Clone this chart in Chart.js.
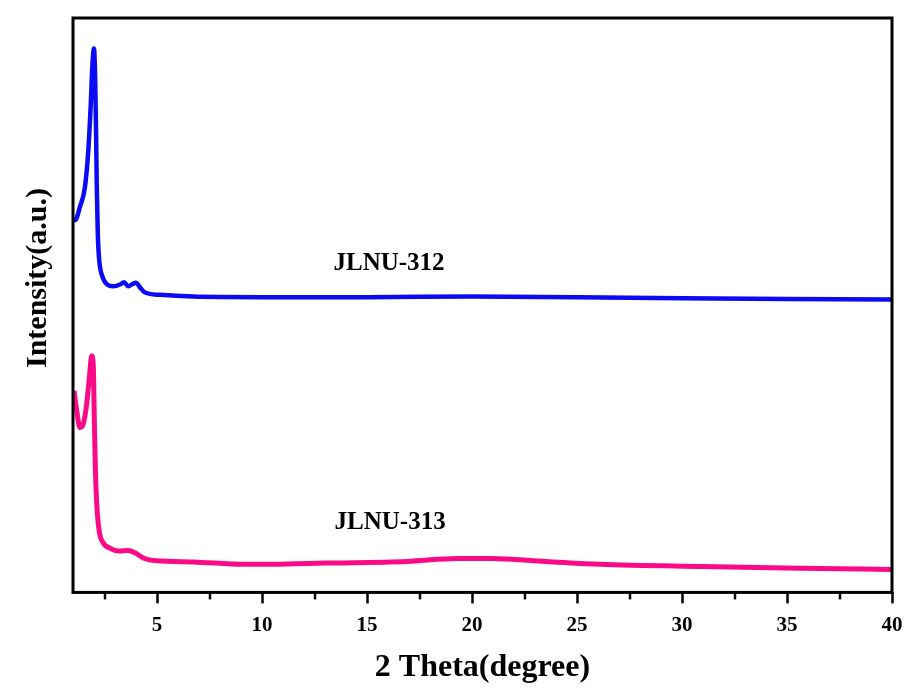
<!DOCTYPE html>
<html>
<head>
<meta charset="utf-8">
<script src="https://cdn.jsdelivr.net/npm/chart.js@4.4.0/dist/chart.umd.min.js"></script>
<style>
  html, body { margin: 0; padding: 0; background: #ffffff; }
  canvas { display: block; }
</style>
</head>
<body>
<canvas id="xrd" width="909" height="691"></canvas>
<script>
// PXRD patterns, 2θ in degrees, intensity in arbitrary units (stacked)
const theta312 = [1.0, 1.1, 1.33, 1.57, 1.73, 1.84, 1.92, 2.0, 2.06, 2.10, 2.13, 2.18, 2.25, 2.41, 2.6, 2.92, 3.24, 3.43, 3.63, 3.84, 4.0, 4.19, 4.43, 5.14, 6.71, 9.9, 15, 20, 25, 30, 35, 40];
const intensity312 = [651, 648, 671, 706, 770, 845, 915, 947, 887, 799, 712, 625, 578, 549, 537, 533, 536, 540, 533, 537, 539, 531, 522, 518, 515, 514, 514, 515, 514, 512, 511, 510];

const theta313 = [1.05, 1.18, 1.33, 1.49, 1.65, 1.78, 1.89, 1.97, 2.01, 2.06, 2.13, 2.25, 2.44, 2.76, 3.16, 3.63, 3.95, 4.35, 4.99, 6.73, 9.11, 10.5, 13, 16.9, 19.3, 20.9, 23.5, 26.1, 30.9, 35.6, 40];
const intensity313 = [351, 316, 287, 293, 328, 374, 412, 391, 311, 223, 154, 106, 86, 77, 72, 73, 69, 60, 55, 53, 49, 49, 51, 54, 59, 59, 54, 49, 45, 42, 40];

const seriesNames = ['JLNU-312', 'JLNU-313'];
const minorTicks = [2.5, 7.5, 12.5, 17.5, 22.5, 27.5, 32.5, 37.5];

const SERIF = "'Liberation Serif', 'Times New Roman', serif";

const toPoints = (xs, ys) => xs.map((x, i) => ({ x: x, y: ys[i] }));

// frame, minor ticks, rotated y title and curve labels
const decorations = {
  id: 'decorations',
  afterDraw(chart) {
    const { ctx, chartArea: a, scales } = chart;
    const xs = scales.x, ys = scales.y;
    ctx.save();

    // minor ticks below the frame
    ctx.strokeStyle = '#000';
    ctx.lineWidth = 2.5;
    minorTicks.forEach(v => {
      const px = Math.round(xs.getPixelForValue(v));
      ctx.beginPath();
      ctx.moveTo(px, a.bottom);
      ctx.lineTo(px, a.bottom + 7);
      ctx.stroke();
    });

    // closed frame round the plot
    ctx.lineWidth = 3;
    ctx.strokeRect(a.left, a.top, a.right - a.left, a.bottom - a.top);

    // y axis title
    ctx.fillStyle = '#000';
    ctx.font = "bold 30px " + SERIF;
    ctx.textAlign = 'center';
    ctx.textBaseline = 'middle';
    ctx.translate(38, 278);
    ctx.rotate(-Math.PI / 2);
    ctx.fillText('Intensity(a.u.)', 0, 0);
    ctx.setTransform(1, 0, 0, 1, 0, 0);

    // sample names beside the curves
    ctx.font = "bold 25px " + SERIF;
    ctx.textAlign = 'center';
    ctx.textBaseline = 'middle';
    ctx.fillText(seriesNames[0], xs.getPixelForValue(16.05), ys.getPixelForValue(572));
    ctx.fillText(seriesNames[1], xs.getPixelForValue(16.1), ys.getPixelForValue(122));
    ctx.restore();
  }
};

new Chart(document.getElementById('xrd'), {
  type: 'line',
  data: {
    datasets: [
      {
        label: seriesNames[0],
        data: toPoints(theta312, intensity312),
        borderColor: '#0a0af5',
        borderWidth: 4.5,
        pointRadius: 0,
        cubicInterpolationMode: 'monotone',
        fill: false
      },
      {
        label: seriesNames[1],
        data: toPoints(theta313, intensity313),
        borderColor: '#fb0a87',
        borderWidth: 5,
        pointRadius: 0,
        cubicInterpolationMode: 'monotone',
        fill: false
      }
    ]
  },
  options: {
    responsive: false,
    animation: false,
    layout: { padding: { left: 73, right: 17, top: 18, bottom: 0 } },
    plugins: {
      legend: { display: false },
      tooltip: { enabled: false }
    },
    scales: {
      x: {
        type: 'linear',
        min: 1,
        max: 40,
        afterFit(scale) {
          // the "40" label fits inside the right margin already
          scale.paddingRight = 0;
        },
        border: { display: false },
        grid: {
          display: true,
          drawOnChartArea: false,
          drawTicks: true,
          tickLength: 11,
          tickWidth: 2.5,
          tickColor: '#000'
        },
        ticks: {
          stepSize: 5,
          includeBounds: false,
          color: '#000',
          padding: 10,
          maxRotation: 0,
          font: { family: SERIF, size: 21, weight: 'bold' }
        },
        title: {
          display: true,
          text: '2 Theta(degree)',
          color: '#000',
          font: { family: SERIF, size: 32, weight: 'bold' },
          padding: { top: 0, bottom: 4 }
        }
      },
      y: {
        display: false,
        min: 0,
        max: 1000
      }
    }
  },
  plugins: [decorations]
});
</script>
</body>
</html>
